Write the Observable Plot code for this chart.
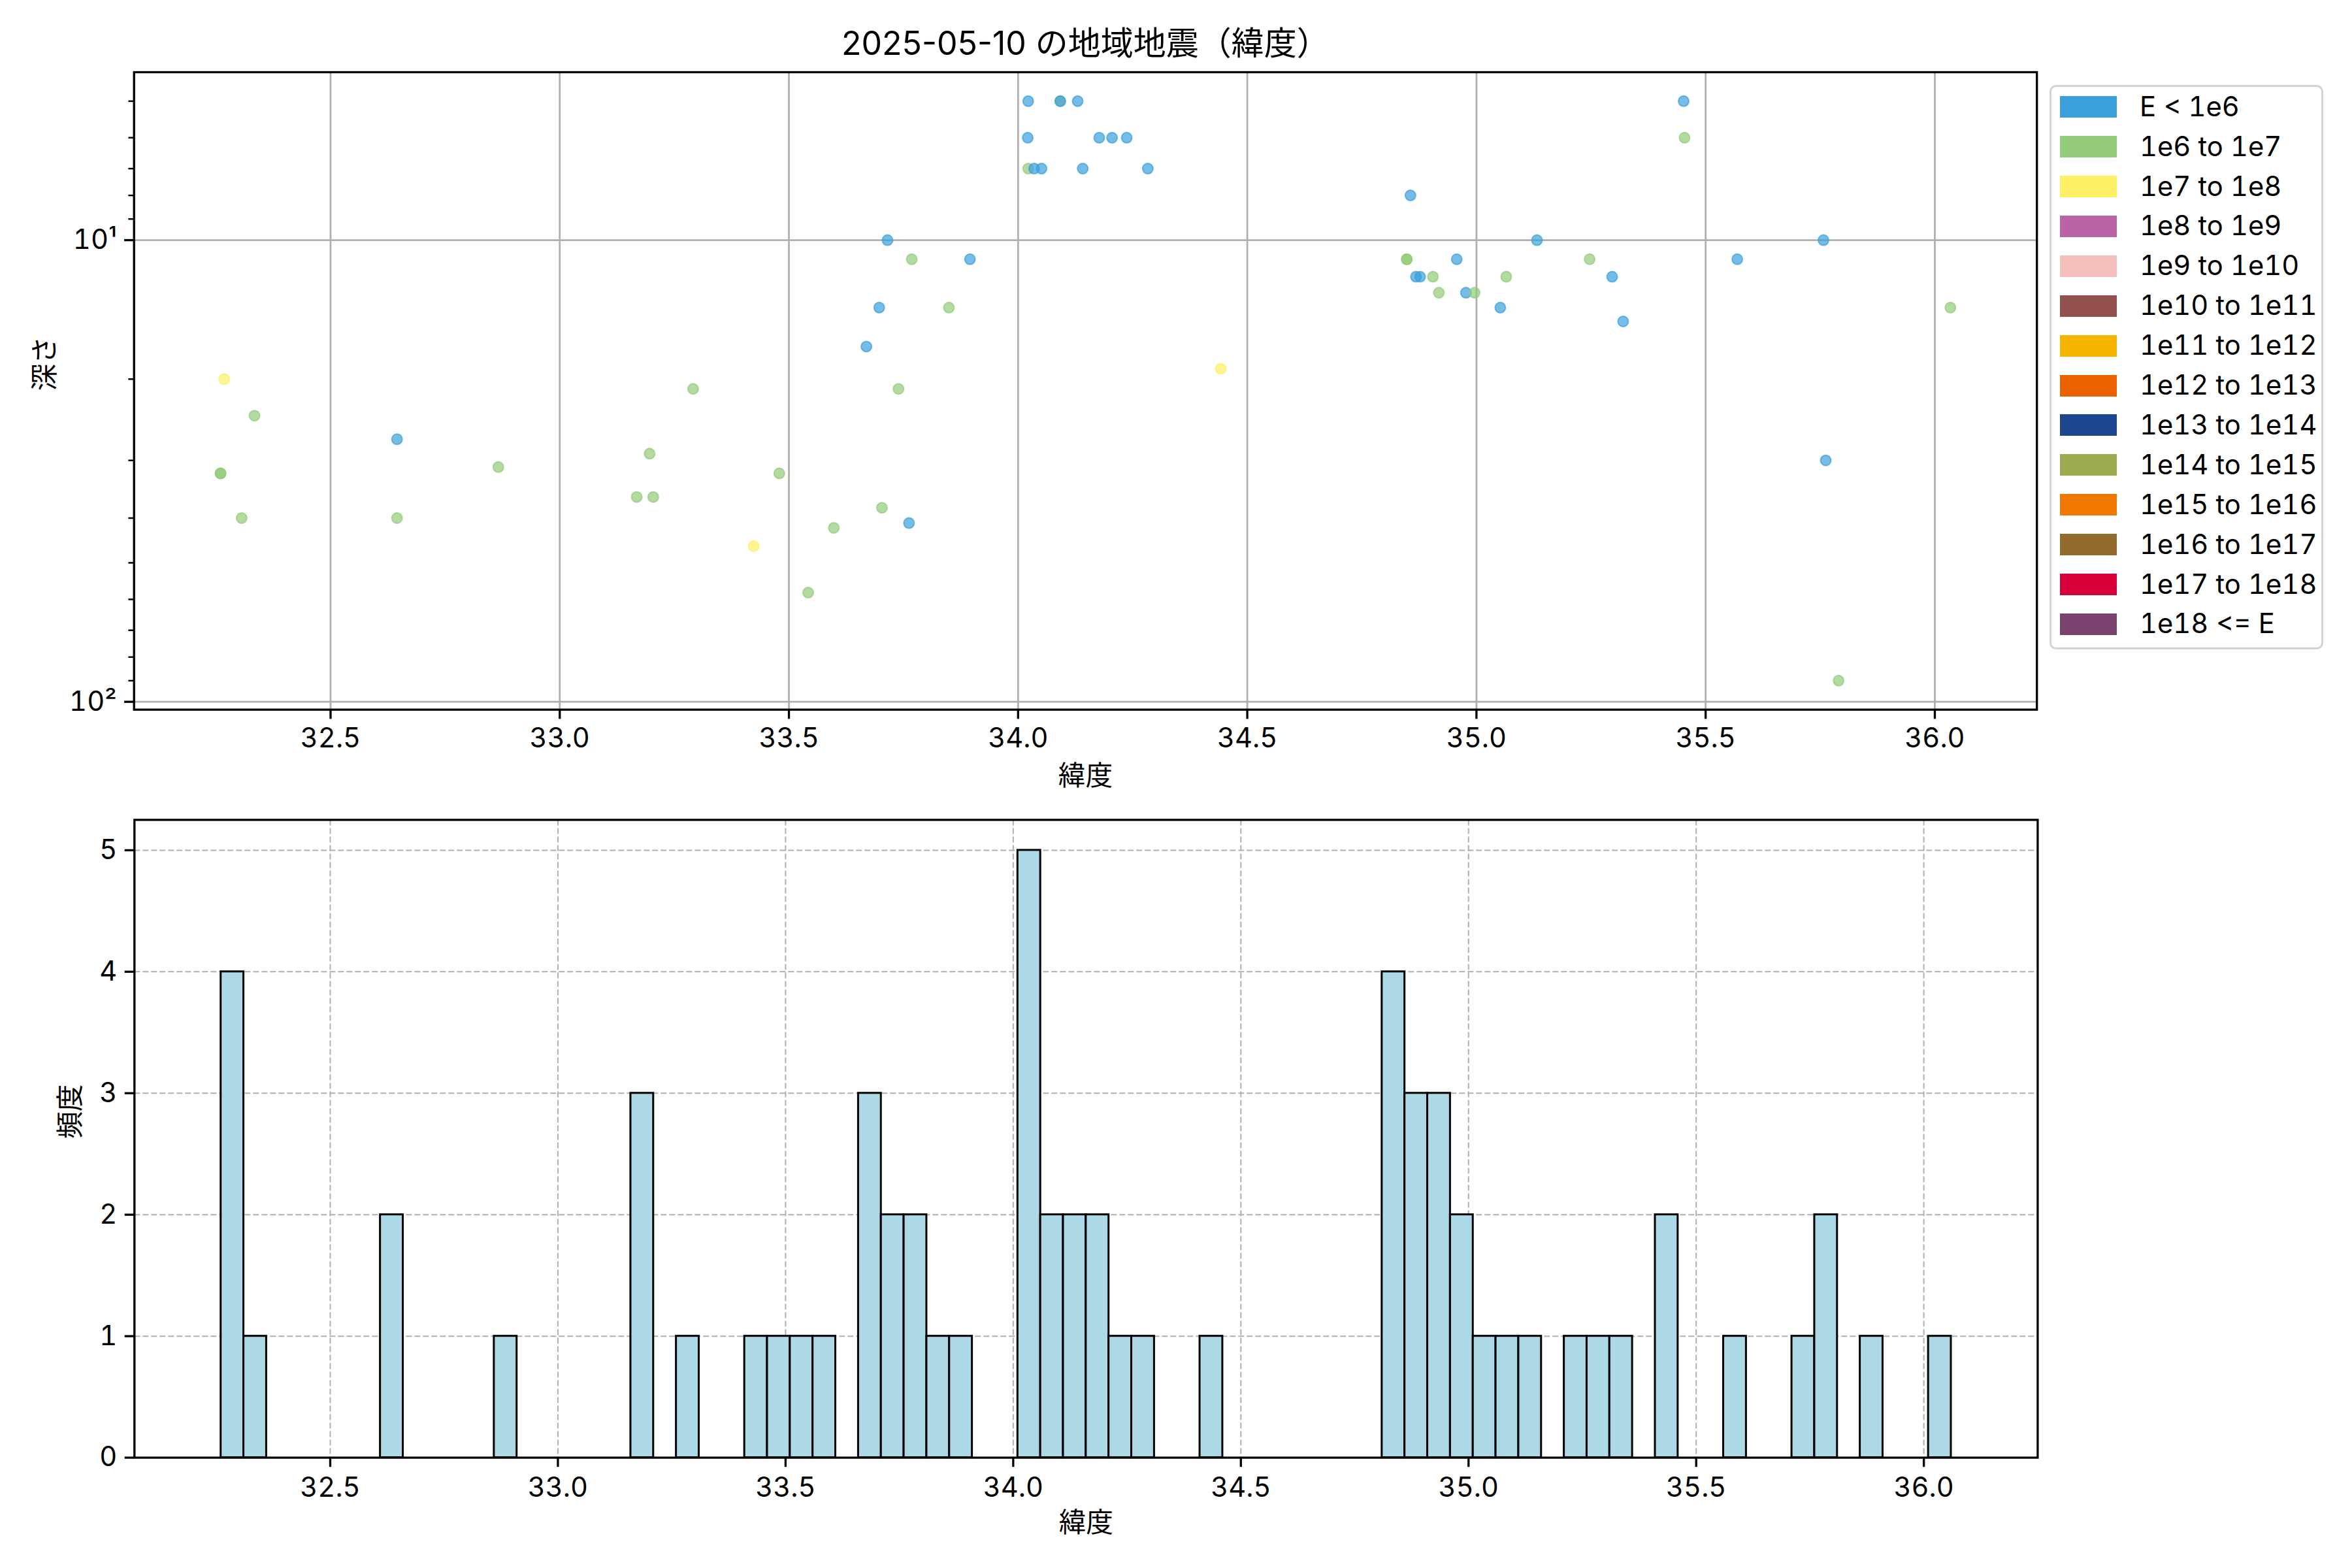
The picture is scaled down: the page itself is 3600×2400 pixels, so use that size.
<!DOCTYPE html>
<html>
<head>
<meta charset="utf-8">
<script src="https://cdn.jsdelivr.net/npm/d3@7"></script>
<script src="https://cdn.jsdelivr.net/npm/@observablehq/plot@0.6"></script>
<style>
  body { margin: 0; background: #fff; }
  #wrap { position: relative; width: 3600px; height: 2400px; background: #fff;
          font-family: Inter, "Noto Sans CJK JP", sans-serif; color: #000; }
  #wrap > svg { position: absolute; left: 0; }
  #legend { position: absolute; left: 3137px; top: 130px; width: 419px; height: 864px;
            box-sizing: border-box; border: 3px solid #d2d2d2; border-radius: 10px; background: #fff;
            font-variant-numeric: tabular-nums; }
  .sw { position: absolute; left: 13px; width: 87px; height: 33px; }
  .lb { position: absolute; left: 135px; font-size: 41.7px; line-height: 1; white-space: nowrap; }
</style>
</head>
<body>
<div id="wrap"><div id="legend"></div></div>
<script>
// ---- data ----
const latitudes = [
  32.260, 32.260, 32.268, 32.306, 32.334, 32.645, 32.645, 32.866, 33.168, 33.196,
  33.204, 33.291, 33.423, 33.479, 33.542, 33.598, 33.669, 33.697, 33.703, 33.715,
  33.739, 33.762, 33.768, 33.849, 33.895, 34.021, 34.022, 34.022, 34.035, 34.051,
  34.092, 34.092, 34.130, 34.141, 34.177, 34.205, 34.237, 34.283, 34.442, 34.830,
  34.848, 34.848, 34.856, 34.868, 34.877, 34.905, 34.918, 34.930, 34.957, 34.977,
  34.996, 35.052, 35.065, 35.132, 35.247, 35.296, 35.320, 35.452, 35.454, 35.569,
  35.757, 35.762, 35.790, 35.880, 36.034
];
const depths = [
  32, 32, 20, 40, 24, 27, 40, 31, 36, 29,
  36, 21, 46, 32, 58, 42, 17, 14, 38, 10,
  21, 41, 11, 14, 11, 6, 5, 7, 7, 7,
  5, 5, 5, 7, 6, 6, 6, 7, 19, 0,
  11, 11, 8, 12, 12, 12, 13, 0, 11, 13,
  13, 14, 12, 10, 11, 12, 15, 5, 6, 11,
  10, 30, 90, 0, 14
];
// energy class index into classLabels
const energyClass = [
  1, 1, 2, 1, 1, 0, 1, 1, 1, 1,
  1, 1, 2, 1, 1, 1, 0, 0, 1, 0,
  1, 0, 1, 1, 0, 0, 0, 1, 0, 0,
  1, 0, 0, 0, 0, 0, 0, 0, 2, 0,
  1, 1, 0, 0, 0, 1, 1, 0, 0, 0,
  1, 0, 1, 0, 1, 0, 0, 0, 1, 0,
  0, 0, 1, 0, 1
];
const classLabels = ["E < 1e6", "1e6 to 1e7", "1e7 to 1e8", "1e8 to 1e9", "1e9 to 1e10",
  "1e10 to 1e11", "1e11 to 1e12", "1e12 to 1e13", "1e13 to 1e14", "1e14 to 1e15",
  "1e15 to 1e16", "1e16 to 1e17", "1e17 to 1e18", "1e18 <= E"];
const classColors = ["#3aa0db", "#93cb78", "#fef064", "#bb64a5", "#f5bfbb",
  "#93514e", "#f7b500", "#ea6200", "#1c478e", "#9aab50",
  "#f07800", "#936b2c", "#d80038", "#7a426e"];
const latTicks = [32.5, 33.0, 33.5, 34.0, 34.5, 35.0, 35.5, 36.0];
const depthMajorTicks = [10, 100];
const depthMinorTicks = [5, 6, 7, 8, 9, 20, 30, 40, 50, 60, 70, 80, 90];
const countTicks = [0, 1, 2, 3, 4, 5];
const binWidth = 0.05;
const titleText = "2025-05-10 の地域地震（緯度）";

(function () {
  const quakes = latitudes.map((lat, i) => ({lat, depth: depths[i], cls: classLabels[energyClass[i]]}));
  const visible = quakes.filter(d => d.depth > 0);

  const FONT = 'Inter, "Noto Sans CJK JP", sans-serif';
  const fs = 41.7;

  const latMin = d3.min(latitudes), latMax = d3.max(latitudes);
  const latPad = 0.05 * (latMax - latMin);
  const xDomTop = [latMin - latPad, latMax + latPad];
  const lMin = Math.log10(d3.min(visible, d => d.depth)), lMax = Math.log10(d3.max(visible, d => d.depth));
  const lPad = 0.05 * (lMax - lMin);
  const yDomTop = [10 ** (lMin - lPad), 10 ** (lMax + lPad)];

  const axisStyle = {fontFamily: FONT, fontSize: fs + "px", color: "#000", background: "transparent", overflow: "visible"};

  const scatterSvg = Plot.plot({
    width: 3600, height: 1200,
    marginLeft: 204.7, marginRight: 482.8, marginTop: 110, marginBottom: 114.3,
    style: axisStyle,
    x: {domain: xDomTop},
    y: {type: "log", domain: yDomTop, reverse: true},
    color: {domain: classLabels, range: classColors},
    marks: [
      Plot.gridX(latTicks, {stroke: "#b0b0b0", strokeOpacity: 1, strokeWidth: 2.8}),
      Plot.gridY(depthMajorTicks, {stroke: "#b0b0b0", strokeOpacity: 1, strokeWidth: 2.8}),
      Plot.dot(visible, {x: "lat", y: "depth", r: 8, fill: "cls", stroke: "cls",
        fillOpacity: 0.7, strokeOpacity: 0.7, strokeWidth: 2}),
      Plot.frame({stroke: "#000", strokeWidth: 3.3}),
      Plot.axisX(latTicks, {tickSize: 14.6, tickPadding: 14, strokeWidth: 3.3,
        tickFormat: d3.format(".1f"), label: null, fontSize: fs}),
      Plot.axisY(depthMajorTicks, {tickSize: 14.6, tickPadding: 12, strokeWidth: 3.3,
        tickFormat: d => "10" + (d === 10 ? "¹" : "²"), label: null, fontSize: fs}),
      Plot.axisY(depthMinorTicks, {tickSize: 8.3, strokeWidth: 2.5, tickFormat: () => "", label: null}),
      Plot.text([titleText], {frameAnchor: "top", dy: -62, fontSize: 50, fill: "#000"}),
      Plot.text(["緯度"], {frameAnchor: "bottom", dy: 116, fontSize: fs, fill: "#000"}),
      Plot.text(["深さ"], {frameAnchor: "left", dx: -136, rotate: -90, fontSize: fs, fill: "#000"})
    ]
  });
  scatterSvg.style.top = "0px";

  const nEdges = Math.ceil((latMax + binWidth - latMin) / binWidth);
  const edges = d3.range(nEdges).map(k => latMin + k * binWidth);
  const bins = d3.bin().domain([edges[0], edges[edges.length - 1]]).thresholds(edges)(latitudes)
    .map(b => ({x0: b.x0, x1: b.x1, count: b.length}));
  const maxCount = d3.max(bins, d => d.count);
  const hPad = 0.05 * (edges[edges.length - 1] - edges[0]);
  const xDomHist = [edges[0] - hPad, edges[edges.length - 1] + hPad];

  const histSvg = Plot.plot({
    width: 3600, height: 1200,
    marginLeft: 205.3, marginRight: 481.6, marginTop: 54.4, marginBottom: 169.4,
    style: axisStyle,
    x: {domain: xDomHist},
    y: {domain: [0, maxCount * 1.05]},
    marks: [
      Plot.gridX(latTicks, {stroke: "#b0b0b0", strokeOpacity: 1, strokeWidth: 2, strokeDasharray: "9,4"}),
      Plot.gridY(countTicks, {stroke: "#b0b0b0", strokeOpacity: 1, strokeWidth: 2, strokeDasharray: "9,4"}),
      Plot.rectY(bins.filter(d => d.count > 0), {x1: "x0", x2: "x1", y1: 0, y2: "count", inset: 0,
        fill: "#add8e6", stroke: "#000", strokeWidth: 3}),
      Plot.frame({stroke: "#000", strokeWidth: 3.3}),
      Plot.axisX(latTicks, {tickSize: 14.6, tickPadding: 16, strokeWidth: 3.3,
        tickFormat: d3.format(".1f"), label: null, fontSize: fs}),
      Plot.axisY(countTicks, {tickSize: 14.6, tickPadding: 12, strokeWidth: 3.3,
        tickFormat: d3.format("d"), label: null, fontSize: fs}),
      Plot.text(["緯度"], {frameAnchor: "bottom", dy: 114, fontSize: fs, fill: "#000"}),
      Plot.text(["頻度"], {frameAnchor: "left", dx: -97, rotate: -90, fontSize: fs, fill: "#000"})
    ]
  });
  histSvg.style.top = "1200px";

  const wrap = document.getElementById("wrap");
  wrap.appendChild(scatterSvg);
  wrap.appendChild(histSvg);

  const legend = document.getElementById("legend");
  classLabels.forEach((lab, i) => {
    const cy = 30.7 + 60.9 * i;
    const sw = document.createElement("div");
    sw.className = "sw";
    sw.style.top = (cy - 16.5) + "px";
    sw.style.background = classColors[i];
    legend.appendChild(sw);
    const lb = document.createElement("div");
    lb.className = "lb";
    lb.style.top = (cy - 21) + "px";
    lb.textContent = lab;
    legend.appendChild(lb);
  });
})();
</script>
</body>
</html>
